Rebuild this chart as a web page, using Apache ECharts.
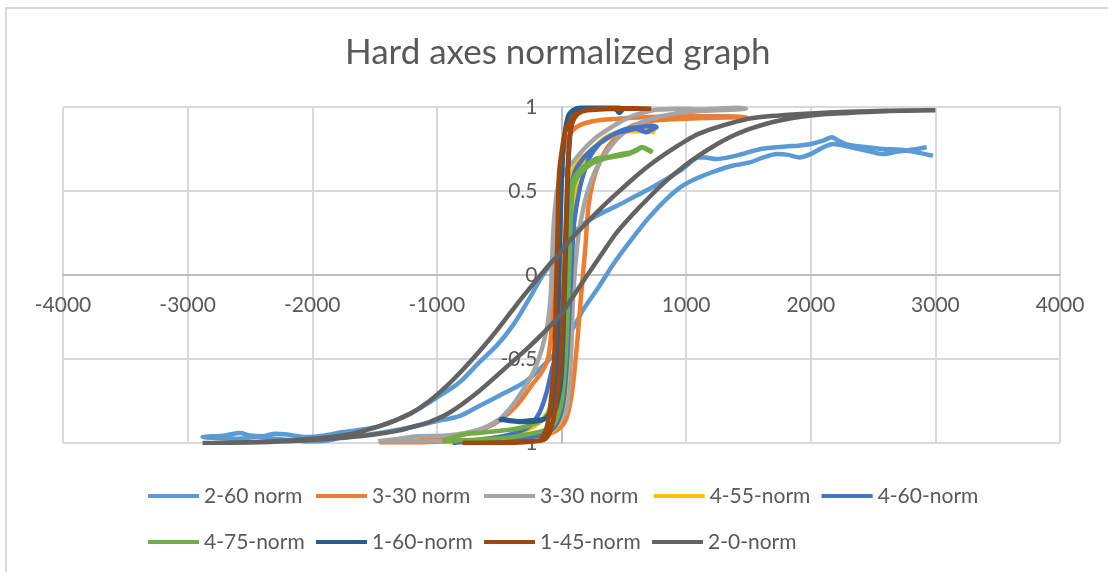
<!DOCTYPE html>
<html>
<head>
<meta charset="utf-8">
<script src="https://cdn.jsdelivr.net/npm/echarts@6/dist/echarts.min.js"></script>
<style>
html,body{margin:0;padding:0;background:#fff;}
#wrap{position:relative;width:1108px;height:572px;overflow:hidden;}
#frame{position:absolute;left:5px;top:7px;width:1200px;height:700px;border:2px solid #d9d9d9;box-sizing:border-box;}
#chart{position:absolute;left:0;top:0;width:1108px;height:572px;}
</style>
</head>
<body>
<div id="wrap"><div id="frame"></div><div id="chart"></div></div>
<script>
const titleText = 'Hard axes normalized graph';
const xTicks = [-4000, 4000, 1000];
const yTicks = [-1, 1, 0.5];
const seriesNames = ['2-60 norm', '3-30 norm', '3-30 norm ', '4-55-norm', '4-60-norm', '4-75-norm', '1-60-norm', '1-45-norm', '2-0-norm'];
const seriesColors = ['#5B9BD5', '#ED7D31', '#A5A5A5', '#FFC000', '#4472C4', '#70AD47', '#255E91', '#9E480E', '#636363'];

const s2_60 = [[2980,0.71],[2850,0.73],[2720,0.745],[2580,0.75],[2450,0.76],[2300,0.775],[2220,0.80],[2170,0.82],[2100,0.80],[2000,0.78],[1900,0.77],[1800,0.765],[1600,0.75],[1450,0.72],[1340,0.70],[1240,0.69],[1150,0.70],[1100,0.70],[1050,0.68],[970,0.63],[840,0.57],[700,0.51],[570,0.46],[440,0.41],[300,0.36],[170,0.30],[60,0.22],[-50,0.10],[-150,0.0],[-250,-0.13],[-390,-0.30],[-520,-0.42],[-660,-0.52],[-820,-0.64],[-1000,-0.73],[-1200,-0.82],[-1460,-0.90],[-1600,-0.92],[-1750,-0.935],[-1900,-0.955],[-2050,-0.965],[-2200,-0.95],[-2300,-0.945],[-2400,-0.96],[-2500,-0.955],[-2580,-0.94],[-2700,-0.955],[-2880,-0.965],
[-2750,-0.97],[-2600,-0.975],[-2450,-0.965],[-2300,-0.975],[-2150,-0.985],[-2000,-0.99],[-1880,-0.985],[-1750,-0.965],[-1600,-0.955],[-1460,-0.94],[-1300,-0.92],[-1200,-0.905],[-1000,-0.87],[-820,-0.84],[-660,-0.78],[-450,-0.70],[-280,-0.63],[-120,-0.52],[0,-0.42],[90,-0.32],[180,-0.2],[300,-0.07],[430,0.08],[570,0.22],[700,0.34],[840,0.45],[970,0.53],[1100,0.58],[1240,0.62],[1370,0.65],[1510,0.67],[1620,0.70],[1730,0.72],[1820,0.715],[1910,0.70],[2000,0.72],[2100,0.76],[2180,0.78],[2300,0.765],[2450,0.74],[2580,0.72],[2700,0.735],[2850,0.75],[2930,0.76]];

const s3_30a = [[-1460,-0.995],[-1200,-0.995],[-900,-0.99],[-600,-0.985],[-400,-0.975],[-200,-0.96],[-50,-0.93],[30,-0.87],[80,-0.72],[120,-0.45],[160,-0.1],[190,0.15],[215,0.4],[250,0.55],[305,0.67],[370,0.76],[440,0.82],[510,0.86],[570,0.89],[700,0.915],[850,0.925],[1000,0.93],[1200,0.935],[1486,0.94],
[1300,0.945],[1000,0.945],[700,0.94],[450,0.93],[250,0.915],[120,0.88],[40,0.80],[-10,0.62],[-45,0.35],[-65,0.0],[-80,-0.32],[-110,-0.5],[-160,-0.58],[-233,-0.65],[-330,-0.75],[-420,-0.82],[-550,-0.89],[-700,-0.935],[-900,-0.965],[-1150,-0.985],[-1460,-0.995]];

const s3_30b = [[-1470,-0.99],[-1200,-0.99],[-900,-0.99],[-600,-0.985],[-400,-0.975],[-200,-0.95],[-50,-0.9],[40,-0.8],[75,-0.5],[95,-0.1],[130,0.2],[170,0.38],[210,0.5],[270,0.62],[333,0.70],[410,0.78],[490,0.84],[580,0.885],[680,0.92],[800,0.945],[950,0.965],[1100,0.975],[1250,0.98],[1400,0.985],[1480,0.99],
[1400,0.995],[1250,0.99],[1100,0.985],[950,0.99],[800,0.985],[730,0.98],[600,0.955],[490,0.92],[380,0.87],[280,0.82],[180,0.75],[90,0.67],[20,0.61],[-30,0.52],[-60,0.33],[-75,0.1],[-85,-0.1],[-105,-0.26],[-130,-0.36],[-170,-0.47],[-233,-0.59],[-340,-0.72],[-420,-0.80],[-500,-0.86],[-660,-0.92],[-920,-0.955],[-1160,-0.96],[-1300,-0.975],[-1470,-0.99]];

const s4_55 = [[-900,-0.995],[-700,-0.99],[-500,-0.985],[-300,-0.975],[-150,-0.955],[-50,-0.91],[10,-0.8],[45,-0.55],[70,-0.1],[95,0.3],[120,0.55],[160,0.66],[200,0.71],[305,0.79],[380,0.83],[466,0.85],[560,0.855],[650,0.855],[747,0.85],
[700,0.87],[620,0.87],[540,0.86],[450,0.845],[360,0.81],[280,0.77],[200,0.72],[140,0.68],[90,0.62],[50,0.45],[25,0.1],[5,-0.3],[-20,-0.55],[-60,-0.72],[-110,-0.82],[-200,-0.89],[-350,-0.94],[-550,-0.97],[-750,-0.985],[-900,-0.995]];

const s4_60 = [[-875,-1.0],[-700,-0.99],[-500,-0.985],[-300,-0.97],[-150,-0.95],[-50,-0.9],[10,-0.78],[45,-0.5],[75,-0.05],[100,0.3],[145,0.51],[185,0.62],[225,0.70],[280,0.76],[333,0.80],[400,0.83],[466,0.85],[530,0.86],[600,0.87],[640,0.86],[683,0.85],[720,0.865],[763,0.88],
[720,0.89],[680,0.885],[620,0.88],[560,0.875],[480,0.86],[400,0.83],[320,0.79],[250,0.75],[170,0.69],[110,0.62],[60,0.45],[30,0.1],[5,-0.25],[-30,-0.45],[-72,-0.55],[-120,-0.70],[-177,-0.82],[-257,-0.90],[-350,-0.935],[-442,-0.955],[-600,-0.975],[-750,-0.99],[-875,-1.0]];

const s4_75 = [[-956,-0.99],[-850,-0.985],[-700,-0.98],[-550,-0.975],[-400,-0.965],[-250,-0.945],[-120,-0.92],[-40,-0.86],[10,-0.7],[40,-0.4],[60,0.0],[75,0.35],[90,0.5],[110,0.56],[145,0.60],[200,0.64],[260,0.67],[330,0.69],[400,0.70],[470,0.71],[540,0.72],[600,0.74],[650,0.76],[700,0.745],[731,0.73],
[690,0.745],[640,0.76],[600,0.745],[550,0.73],[480,0.72],[420,0.71],[360,0.70],[290,0.695],[225,0.67],[170,0.64],[120,0.60],[85,0.55],[60,0.4],[40,0.0],[20,-0.4],[0,-0.51],[-40,-0.62],[-72,-0.74],[-120,-0.84],[-200,-0.88],[-300,-0.905],[-400,-0.92],[-530,-0.93],[-660,-0.94],[-800,-0.95],[-956,-0.99]];

const s1_60 = [[-498,-0.87],[-470,-0.855],[-420,-0.865],[-350,-0.87],[-250,-0.865],[-160,-0.86],[-90,-0.84],[-40,-0.78],[0,-0.6],[25,-0.1],[40,0.3],[55,0.65],[75,0.87],[100,0.95],[140,0.985],[200,0.995],[300,0.99],[400,0.99],[440,0.985],[460,0.965],[475,0.97],[490,0.99],
[450,0.995],[350,0.995],[250,0.995],[150,0.995],[90,0.98],[50,0.94],[20,0.80],[0,0.5],[-15,0.1],[-30,-0.35],[-50,-0.65],[-80,-0.8],[-130,-0.855],[-200,-0.87],[-300,-0.875],[-400,-0.87],[-498,-0.86]];

const s1_45 = [[-795,-1.0],[-600,-0.998],[-400,-0.995],[-250,-0.99],[-160,-0.985],[-120,-0.97],[-90,-0.93],[-50,-0.8],[-10,-0.55],[15,-0.2],[30,0.2],[45,0.55],[60,0.78],[85,0.9],[120,0.95],[170,0.975],[300,0.985],[450,0.99],[600,0.99],[720,0.99],
[600,0.993],[450,0.993],[300,0.99],[170,0.975],[100,0.95],[64,0.91],[30,0.85],[8,0.77],[-20,0.6],[-30,0.3],[-40,0.0],[-50,-0.3],[-65,-0.6],[-80,-0.71],[-100,-0.84],[-120,-0.91],[-150,-0.96],[-177,-0.985],[-300,-0.995],[-500,-1.0],[-795,-1.0]];

const s2_0 = [[-2880,-1.0],[-2500,-0.997],[-2200,-0.99],[-1860,-0.975],[-1600,-0.958],[-1460,-0.945],[-1300,-0.925],[-1200,-0.905],[-1060,-0.875],[-900,-0.82],[-660,-0.69],[-400,-0.52],[-250,-0.42],[-100,-0.31],[0,-0.23],[100,-0.12],[190,-0.02],[300,0.1],[440,0.25],[570,0.36],[700,0.46],[840,0.56],[970,0.64],[1100,0.71],[1250,0.78],[1380,0.83],[1510,0.87],[1750,0.92],[2000,0.95],[2300,0.965],[2600,0.975],[3000,0.98],
[2600,0.978],[2300,0.972],[2000,0.962],[1750,0.95],[1500,0.93],[1250,0.88],[1100,0.84],[1000,0.80],[850,0.73],[700,0.65],[570,0.57],[450,0.49],[320,0.40],[200,0.31],[60,0.20],[0,0.14],[-100,0.06],[-190,-0.02],[-300,-0.12],[-400,-0.215],[-530,-0.34],[-660,-0.455],[-800,-0.57],[-920,-0.66],[-1060,-0.75],[-1200,-0.82],[-1330,-0.865],[-1460,-0.90],[-1650,-0.94],[-1860,-0.965],[-2100,-0.98],[-2400,-0.992],[-2880,-1.0]];

const seriesData = [s2_60, s3_30a, s3_30b, s4_55, s4_60, s4_75, s1_60, s1_45, s2_0];

const FONT = 'Lato, "Open Sans", sans-serif';
const GRID = {left: 63, right: 48, top: 107, bottom: 129};
const W = 1108, H = 572;
const plotW = W - GRID.left - GRID.right;
const plotH = H - GRID.top - GRID.bottom;
// offsets that move each axis onto the other's zero line
const xAxisOffset = -plotH * (0 - yTicks[0]) / (yTicks[1] - yTicks[0]);
const yAxisOffset = -plotW * (0 - xTicks[0]) / (xTicks[1] - xTicks[0]);

const chart = echarts.init(document.getElementById('chart'), null, {renderer: 'canvas'});
chart.setOption({
  animation: false,
  backgroundColor: 'transparent',
  title: {
    text: titleText,
    left: 345,
    top: 35,
    padding: 0,
    textStyle: {fontFamily: FONT, fontSize: 35, fontWeight: 'normal', color: '#595959'}
  },
  grid: {left: GRID.left, right: GRID.right, top: GRID.top, bottom: GRID.bottom, containLabel: false},
  legend: {
    left: 143,
    top: 473,
    width: 850,
    itemWidth: 51,
    itemHeight: 4,
    itemGap: 10,
    icon: 'rect',
    textStyle: {fontFamily: FONT, fontSize: 21, color: '#595959', width: 102, height: 36, lineHeight: 36},
    data: seriesNames
  },
  xAxis: {
    type: 'value', min: xTicks[0], max: xTicks[1], interval: xTicks[2],
    position: 'bottom', offset: xAxisOffset,
    axisLine: {show: true, onZero: false, lineStyle: {color: '#bfbfbf', width: 2}},
    axisTick: {show: false},
    splitLine: {show: true, lineStyle: {color: '#d9d9d9', width: 2}},
    axisLabel: {fontFamily: FONT, fontSize: 21, color: '#595959', margin: 20, formatter: v => String(v)}
  },
  yAxis: {
    type: 'value', min: yTicks[0], max: yTicks[1], interval: yTicks[2],
    position: 'left', offset: yAxisOffset,
    axisLine: {show: true, onZero: false, lineStyle: {color: '#bfbfbf', width: 2}},
    axisTick: {show: false},
    splitLine: {show: true, lineStyle: {color: '#d9d9d9', width: 2}},
    axisLabel: {fontFamily: FONT, fontSize: 21, color: '#595959', margin: 24, formatter: v => String(v)}
  },
  series: seriesNames.map((n, i) => ({
    name: n,
    type: 'line',
    data: seriesData[i],
    color: seriesColors[i],
    symbol: 'none',
    smooth: 0.3,
    lineStyle: {width: 4.5, color: seriesColors[i]},
    z: 2 + i * 0.01
  }))
});
</script>
</body>
</html>
